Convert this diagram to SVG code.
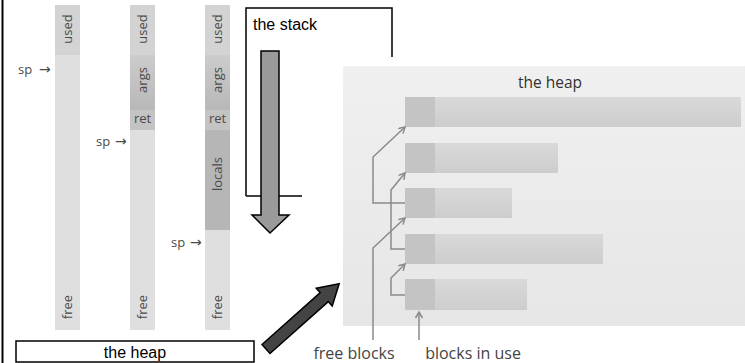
<svg xmlns="http://www.w3.org/2000/svg" width="745" height="363" viewBox="0 0 745 363">
<defs>
<style>
.lbl{font-family:"Open Sans","Noto Sans",sans-serif;font-size:13px;fill:#4a4a4a}
.arr{font-family:"DejaVu Sans",sans-serif;font-size:14px;fill:#4a4a4a}
.cap{font-family:"Liberation Sans",Arial,sans-serif;font-size:16px;fill:#000}
.hl{font-family:"Open Sans","Noto Sans",sans-serif;font-size:16px;fill:#444}
.used{fill:#d3d3d3}
.free{fill:#dfdfdf}
.args{fill:url(#gArgs)}
.ret{fill:#c4c4c4}
.loc{fill:#b6b6b6}
.blk{fill:url(#gBlk)}
.hdr{fill:#c4c4c4}
.fl{fill:none;stroke:#8a8a8a;stroke-width:1.5;marker-end:url(#ah)}
</style>
<linearGradient id="gArgs" x1="0" y1="0" x2="0" y2="1"><stop offset="0" stop-color="#cccccc"/><stop offset="1" stop-color="#b8b8b8"/></linearGradient>
<linearGradient id="gBlk" x1="0" y1="0" x2="0" y2="1"><stop offset="0" stop-color="#d9d9d9"/><stop offset="1" stop-color="#cdcdcd"/></linearGradient>
<linearGradient id="gPanel" x1="0" y1="0" x2="0" y2="1"><stop offset="0" stop-color="#f0f0f0"/><stop offset="1" stop-color="#e6e6e6"/></linearGradient>
<marker id="ah" markerUnits="userSpaceOnUse" markerWidth="10" markerHeight="10" refX="7" refY="4" orient="auto"><path d="M1,0.5 L7,4 L1,7.5" fill="none" stroke="#8a8a8a" stroke-width="1.5"/></marker>
</defs>
<rect width="745" height="363" fill="#fff"/>
<line x1="2.5" y1="0" x2="2.5" y2="363" stroke="#000" stroke-width="2"/>

<g id="col1">
<rect class="used" x="55" y="5" width="25" height="50"/>
<rect class="free" x="55" y="55" width="25" height="275"/>
<text class="lbl" transform="translate(72,29) rotate(-90)" text-anchor="middle">used</text>
<text class="lbl" transform="translate(72,307) rotate(-90)" text-anchor="middle">free</text>
<text class="lbl" x="18" y="74">sp</text><text class="arr" x="39" y="74">→</text>
</g>
<g id="col2">
<rect class="used" x="130" y="5" width="25" height="50"/>
<rect class="args" x="130" y="55" width="25" height="55"/>
<rect class="ret" x="130" y="110" width="25" height="20"/>
<rect class="free" x="130" y="130" width="25" height="200"/>
<text class="lbl" transform="translate(147,29) rotate(-90)" text-anchor="middle">used</text>
<text class="lbl" transform="translate(147,80) rotate(-90)" text-anchor="middle">args</text>
<text class="lbl" x="142.5" y="123" text-anchor="middle">ret</text>
<text class="lbl" transform="translate(147,307) rotate(-90)" text-anchor="middle">free</text>
<text class="lbl" x="96" y="146">sp</text><text class="arr" x="115" y="146">→</text>
</g>
<g id="col3">
<rect class="used" x="205" y="5" width="25" height="50"/>
<rect class="args" x="205" y="55" width="25" height="55"/>
<rect class="ret" x="205" y="110" width="25" height="20"/>
<rect class="loc" x="205" y="130" width="25" height="100"/>
<rect class="free" x="205" y="230" width="25" height="100"/>
<text class="lbl" transform="translate(222,29) rotate(-90)" text-anchor="middle">used</text>
<text class="lbl" transform="translate(222,80) rotate(-90)" text-anchor="middle">args</text>
<text class="lbl" x="217.5" y="123" text-anchor="middle">ret</text>
<text class="lbl" transform="translate(222,174) rotate(-90)" text-anchor="middle">locals</text>
<text class="lbl" transform="translate(222,307) rotate(-90)" text-anchor="middle">free</text>
<text class="lbl" x="171" y="247">sp</text><text class="arr" x="190" y="247">→</text>
</g>

<g id="stack">
<polyline points="246,196 246,8 392,8 392,57" fill="none" stroke="#000" stroke-width="1.5"/>
<line x1="246" y1="196" x2="302" y2="196" stroke="#000" stroke-width="1.5"/>
<text class="cap" x="253" y="30">the stack</text>
<polygon points="261,51 279,51 279,215 289,215 270,233 252,215 261,215" fill="#9a9a9a" stroke="#000" stroke-width="1.5"/>
</g>

<g id="heaplabel">
<rect x="16" y="341" width="238" height="21" fill="#fff" stroke="#000" stroke-width="1.5"/>
<text class="cap" x="135" y="358" text-anchor="middle">the heap</text>
<polygon transform="translate(266,349) rotate(-41.7)" points="0,-6 78,-6 78,-12 98,0 78,12 78,6 0,6" fill="#444" stroke="#000" stroke-width="1.5"/>
</g>

<g id="heap">
<rect x="343" y="66" width="402" height="260" fill="url(#gPanel)"/>
<text class="hl" x="550" y="88" text-anchor="middle" style="font-size:15.5px;fill:#333">the heap</text>
</g>
<g id="block1"><rect class="blk" x="405" y="97" width="336" height="30"/><rect class="hdr" x="405" y="97" width="30" height="30"/></g>
<g id="block2"><rect class="blk" x="405" y="143" width="153" height="30"/><rect class="hdr" x="405" y="143" width="30" height="30"/></g>
<g id="block3"><rect class="blk" x="405" y="188" width="107" height="30"/><rect class="hdr" x="405" y="188" width="30" height="30"/></g>
<g id="block4"><rect class="blk" x="405" y="234" width="198" height="30"/><rect class="hdr" x="405" y="234" width="30" height="30"/></g>
<g id="block5"><rect class="blk" x="405" y="279" width="122" height="31"/><rect class="hdr" x="405" y="279" width="30" height="31"/></g>

<g id="connectors">
<polyline class="fl" points="405,203 373,203 373,157 405,127"/>
<polyline class="fl" points="405,249 391,249 391,190 405,173"/>
<polyline class="fl" points="373,340 373,248 405,218"/>
<polyline class="fl" points="405,295 391,295 391,278 405,264"/>
<polyline class="fl" points="419,340 419,312"/>
</g>
<text class="hl" x="354" y="359" text-anchor="middle">free blocks</text>
<text class="hl" x="473" y="359" text-anchor="middle">blocks in use</text>
</svg>
